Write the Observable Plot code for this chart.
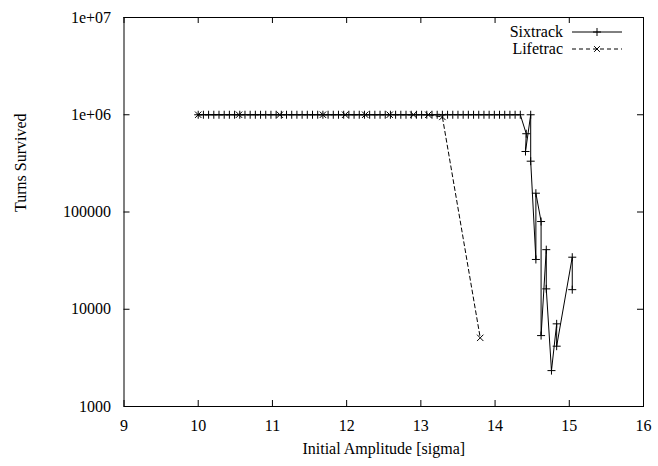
<!DOCTYPE html>
<html><head><meta charset="utf-8">
<script src="https://cdn.jsdelivr.net/npm/d3@7"></script>
<script src="https://cdn.jsdelivr.net/npm/@observablehq/plot@0.6"></script>
<style>
body{margin:0;background:#fff}
#chart{width:658px;height:466px}
</style>
</head><body><div id="chart"></div>
<script>
// Sixtrack series (in plotting order)
const sixtrackX = [
  10.00,10.07,10.14,10.21,10.28,10.35,10.42,10.49,10.56,10.63,
  10.70,10.77,10.84,10.91,10.98,11.05,11.12,11.19,11.26,11.33,
  11.40,11.47,11.54,11.61,11.68,11.75,11.82,11.89,11.96,12.03,
  12.10,12.17,12.24,12.31,12.38,12.45,12.52,12.59,12.66,12.73,
  12.80,12.87,12.94,13.01,13.08,13.15,13.22,13.29,13.36,13.43,
  13.50,13.57,13.64,13.71,13.78,13.85,13.92,13.99,14.06,14.13,
  14.20,14.27,14.34,
  14.42,14.41,14.48,14.48,14.55,14.55,14.62,14.62,14.69,14.69,
  14.76,14.83,14.83,15.04,15.04
];
const sixtrackY = [
  1000000,1000000,1000000,1000000,1000000,1000000,1000000,1000000,1000000,1000000,
  1000000,1000000,1000000,1000000,1000000,1000000,1000000,1000000,1000000,1000000,
  1000000,1000000,1000000,1000000,1000000,1000000,1000000,1000000,1000000,1000000,
  1000000,1000000,1000000,1000000,1000000,1000000,1000000,1000000,1000000,1000000,
  1000000,1000000,1000000,1000000,1000000,1000000,1000000,1000000,1000000,1000000,
  1000000,1000000,1000000,1000000,1000000,1000000,1000000,1000000,1000000,1000000,
  1000000,1000000,1000000,
  638000,419000,1000000,333000,32500,156000,79800,5360,41000,16200,
  2340,7080,4170,34300,15900
];
// Lifetrac series
const lifetracX = [10.00,10.55,11.10,11.68,11.98,12.25,12.58,12.90,13.10,13.29,13.80];
const lifetracY = [1000000,1000000,1000000,1000000,1000000,1000000,1000000,1000000,1000000,950000,5080];

const xTicks = [9,10,11,12,13,14,15,16];
const yTicks = [1000,10000,100000,1000000,10000000];
const yTickLabels = ["1000","10000","100000","1e+06","1e+07"];
const seriesNames = ["Sixtrack","Lifetrac"];
const xTitle = "Initial Amplitude [sigma]";
const yTitle = "Turns Survived";

const sixtrack = sixtrackX.map((x,i)=>({x, y: sixtrackY[i]}));
const lifetrac = lifetracX.map((x,i)=>({x, y: lifetracY[i]}));

const FONT = "Liberation Serif";
const W = 658, H = 466;
const mL = 123.5, mR = 15, mT = 17, mB = 60;
const innerW = W - mL - mR, innerH = H - mT - mB;
const tl = 6;

const chart = Plot.plot({
  width: W, height: H,
  marginLeft: mL, marginRight: mR, marginTop: mT, marginBottom: mB,
  style: `font-family: '${FONT}'; font-size: 16px; background: #fff; color: #000;`,
  x: {domain: [9,16], ticks: xTicks},
  y: {type: "log", domain: [1000, 1e7], ticks: yTicks},
  marks: [
    Plot.axisX({ticks: xTicks, tickSize: 0, tickPadding: 13, label: null, tickFormat: d => String(d), fontSize: 16}),
    Plot.axisY({ticks: yTicks, tickSize: 0, tickPadding: 13, label: null, fontSize: 16,
                tickFormat: d => yTickLabels[yTicks.indexOf(d)]}),
    // inward ticks on all four sides
    Plot.tickX(xTicks, {x: d => d, insetTop: innerH - tl, stroke: "#000"}),
    Plot.tickX(xTicks, {x: d => d, insetBottom: innerH - tl, stroke: "#000"}),
    Plot.tickY(yTicks, {y: d => d, insetRight: innerW - tl, stroke: "#000"}),
    Plot.tickY(yTicks, {y: d => d, insetLeft: innerW - tl, stroke: "#000"}),
    Plot.frame({stroke: "#000"}),
    Plot.line(sixtrack, {x: "x", y: "y", stroke: "#000", strokeWidth: 1}),
    Plot.dot(sixtrack, {x: "x", y: "y", symbol: "plus", r: 2.7, stroke: "#000", strokeWidth: 1}),
    Plot.line(lifetrac, {x: "x", y: "y", stroke: "#000", strokeWidth: 1, strokeDasharray: "4,3"}),
    Plot.dot(lifetrac, {x: "x", y: "y", symbol: "times", r: 3, stroke: "#000", strokeWidth: 1}),
    Plot.text([xTitle], {frameAnchor: "bottom", dy: 47, text: d => d, fontSize: 16, fill: "#000"}),
    Plot.text([yTitle], {frameAnchor: "left", dx: -103, rotate: -90, text: d => d, fontSize: 16, fill: "#000"})
  ]
});
document.getElementById("chart").appendChild(chart);

// Legend (top right, gnuplot style)
const svg = d3.select(chart);
const leg = svg.append("g");
const legRows = [
  {name: seriesNames[0], dash: null, sym: d3.symbolPlus},
  {name: seriesNames[1], dash: "4,3", sym: d3.symbolTimes}
];
legRows.forEach((r, i) => {
  const y = 32 + i * 17;
  leg.append("text").attr("x", 563).attr("y", y).attr("dy", "0.32em").attr("text-anchor", "end").attr("fill", "#000").text(r.name);
  leg.append("line").attr("x1", 572).attr("x2", 622).attr("y1", y).attr("y2", y).attr("stroke", "#000").attr("stroke-dasharray", r.dash);
  leg.append("path").attr("transform", `translate(597,${y})`).attr("d", d3.symbol(r.sym, Math.PI * 7.3)()).attr("fill", "none").attr("stroke", "#000");
});
svg.attr("font-family", FONT);
svg.selectAll("text").attr("font-family", FONT).style("font-family", `'${FONT}'`).style("font-size", "16px");
</script>
</body></html>
